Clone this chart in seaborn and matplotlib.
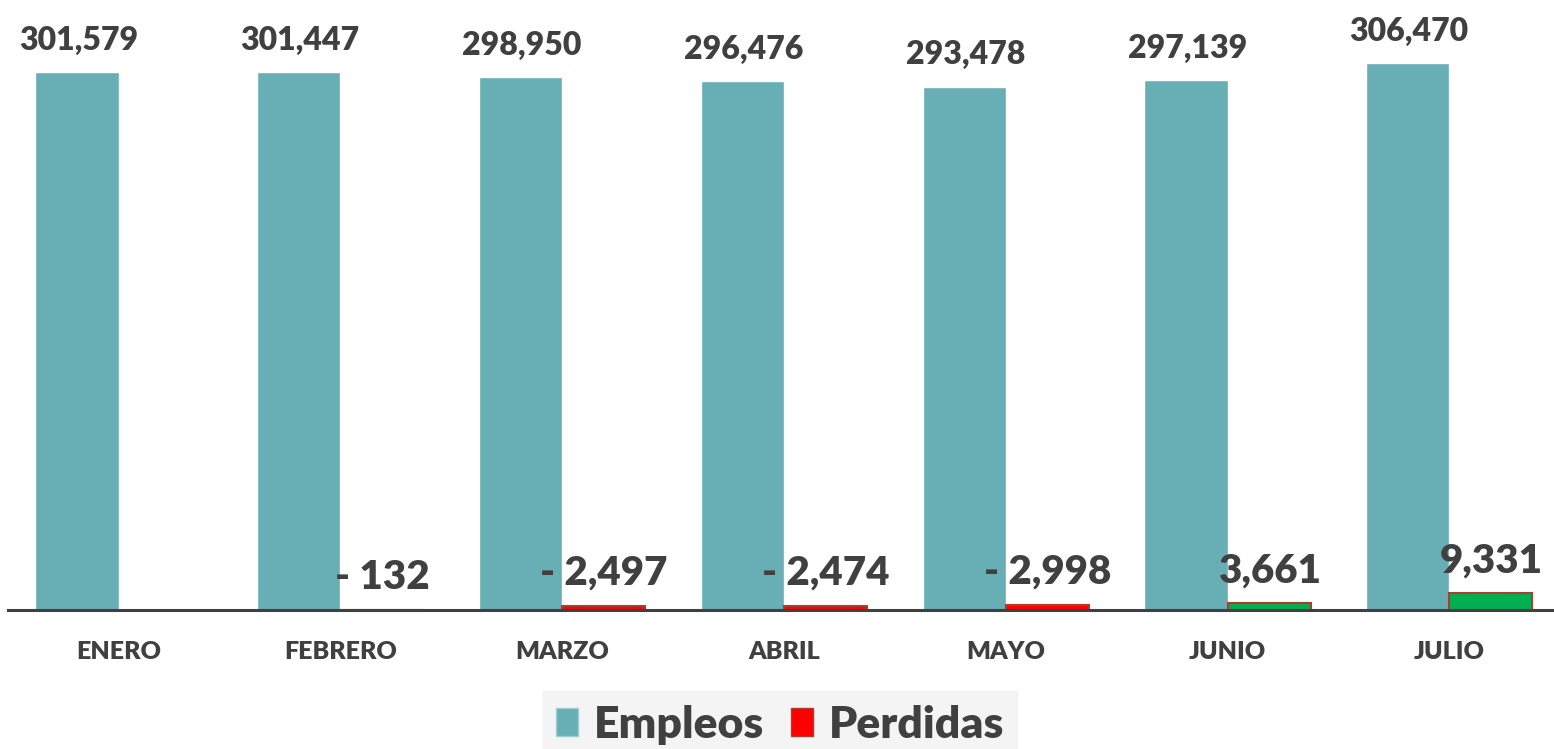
import pandas as pd
import numpy as np
import matplotlib
matplotlib.use("Agg")
import matplotlib.pyplot as plt
from matplotlib.patches import Patch
import seaborn as sns

# data
meses = ["ENERO", "FEBRERO", "MARZO", "ABRIL", "MAYO", "JUNIO", "JULIO"]
empleos = [301579, 301447, 298950, 296476, 293478, 297139, 306470]
perdidas = [0, -132, -2497, -2474, -2998, 3661, 9331]

teal = "#67AEB5"
rojo = "#FF0000"
verde = "#00B050"
borde = "#B03A2E"
gris = "#404040"

df = pd.DataFrame({
    "Mes": meses * 2,
    "Serie": ["Empleos"] * 7 + ["Perdidas"] * 7,
    "Valor": empleos + [abs(v) for v in perdidas],
})

sns.set_style("white")
plt.rcParams["font.family"] = ["Lato", "DejaVu Sans"]

fig = plt.figure(figsize=(15.54, 7.49), dpi=100)
ax = fig.add_axes([0.005, 1 - 610 / 749, 0.999, 610 / 749])

sns.barplot(data=df, x="Mes", y="Valor", hue="Serie", palette=[teal, rojo],
            width=0.75, dodge=True, legend=False, ax=ax, saturation=1)

ax.set_ylim(0, 342000)
ax.set_xlim(-0.5, 6.5)

# color the Perdidas bars: red for losses, green for gains
for bar, v in zip(ax.containers[1], perdidas):
    bar.set_facecolor(rojo if v < 0 else verde)
    bar.set_edgecolor(borde)
    bar.set_linewidth(1.5 if v != 0 else 0)

# value labels
for bar, v in zip(ax.containers[0], empleos):
    ax.annotate(f"{v:,}", (bar.get_x() + bar.get_width() / 2, bar.get_height()),
                xytext=(1, 16), textcoords="offset points", ha="center", va="baseline",
                fontsize=23, fontweight="heavy", color=gris)
for bar, v in zip(ax.containers[1], perdidas):
    if v == 0:
        continue
    txt = f"- {abs(v):,}" if v < 0 else f"{v:,}"
    ax.annotate(txt, (bar.get_x() + bar.get_width() / 2, bar.get_height()),
                xytext=(0, 15), textcoords="offset points", ha="center", va="baseline",
                fontsize=29, fontweight="heavy", color=gris)

ax.set_xlabel("")
ax.set_ylabel("")
ax.set_yticks([])
ax.tick_params(axis="x", length=0, pad=22)
for lbl in ax.get_xticklabels():
    lbl.set_fontsize(18)
    lbl.set_fontweight("heavy")
    lbl.set_color(gris)
for s in ["top", "right", "left"]:
    ax.spines[s].set_visible(False)
ax.spines["bottom"].set_color(gris)
ax.spines["bottom"].set_linewidth(2.2)

handles = [Patch(facecolor=teal, edgecolor="#9FCFD3", label="Empleos"),
           Patch(facecolor=rojo, edgecolor=borde, label="Perdidas")]
leg = fig.legend(handles=handles, loc="lower center", bbox_to_anchor=(0.502, -0.012), ncol=2,
                 frameon=True, fontsize=32, handlelength=0.5, handleheight=0.62,
                 handletextpad=0.35, columnspacing=0.6, borderpad=0.3, borderaxespad=0,
                 fancybox=False)
leg.get_frame().set_facecolor("#F2F2F2")
leg.get_frame().set_edgecolor("#F2F2F2")
for t in leg.get_texts():
    t.set_fontweight("heavy")
    t.set_color(gris)

fig.savefig("out.png", dpi=100)
